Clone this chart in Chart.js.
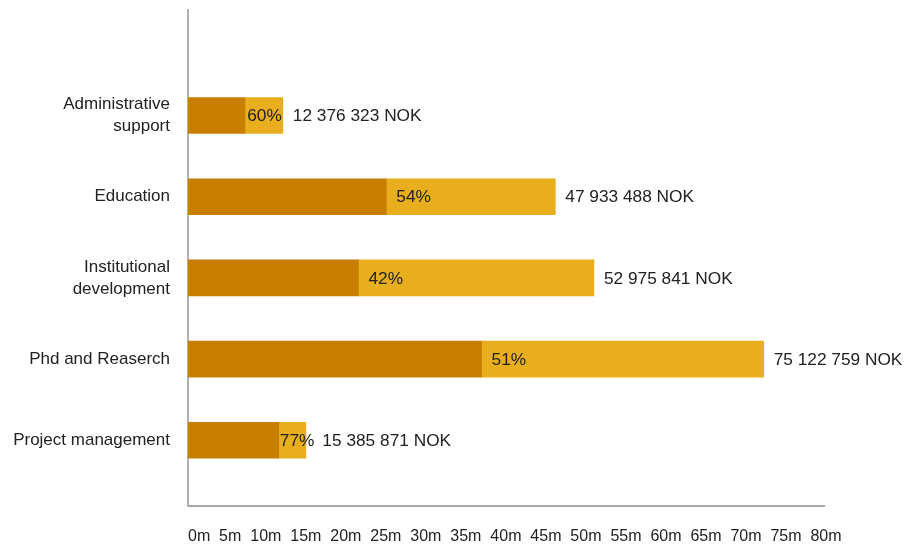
<!DOCTYPE html>
<html>
<head>
<meta charset="utf-8">
<script src="https://cdn.jsdelivr.net/npm/chart.js@4/dist/chart.umd.min.js"></script>
<style>
  html, body { margin: 0; padding: 0; background: #ffffff; }
  #wrap { width: 908px; height: 547px; position: relative; }
</style>
</head>
<body>
<div id="wrap"><canvas id="c" width="908" height="547"></canvas></div>
<script>
// ---- data ----
const categories = [
  ['Administrative', 'support'],
  'Education',
  ['Institutional', 'development'],
  'Phd and Reaserch',
  'Project management'
];
const spentValues     = [7425794, 25884084, 22249853, 38312607, 11847121];
const remainingValues = [4950529, 22049404, 30725988, 36810152, 3538750];
const percentLabels   = ['60%', '54%', '42%', '51%', '77%'];
const totalLabels     = ['12 376 323 NOK', '47 933 488 NOK', '52 975 841 NOK', '75 122 759 NOK', '15 385 871 NOK'];
const xTickLabels     = ['0m', '5m', '10m', '15m', '20m', '25m', '30m', '35m', '40m', '45m', '50m', '55m', '60m', '65m', '70m', '75m', '80m'];

const FONT = 'Liberation Sans, Arial, sans-serif';
const TEXT = '#222222';

const barLabels = {
  id: 'barLabels',
  afterDatasetsDraw(chart) {
    const ctx = chart.ctx;
    const m0 = chart.getDatasetMeta(0);
    const m1 = chart.getDatasetMeta(1);
    ctx.save();
    ctx.font = '17.3px ' + FONT;
    ctx.fillStyle = TEXT;
    ctx.textBaseline = 'middle';
    ctx.textAlign = 'left';
    categories.forEach((_, i) => {
      const dark = m0.data[i];
      const light = m1.data[i];
      const darkEnd = dark.x;
      const barEnd = light.x;
      const y = dark.y + 1;
      const pw = ctx.measureText(percentLabels[i]).width;
      const px = Math.max(darkEnd + 1, Math.min(darkEnd + 10, barEnd - pw - 1));
      ctx.fillText(percentLabels[i], px, y);
      const tx = Math.max(barEnd + 10, px + pw + 8);
      ctx.fillText(totalLabels[i], tx, y);
    });
    // x-axis tick label row, anchored at the x scale's left edge
    const xs = chart.scales.x;
    ctx.font = '16px ' + FONT;
    ctx.fillText(xTickLabels.join('  '), xs.left, xs.bottom - 10);
    ctx.restore();
  }
};

new Chart(document.getElementById('c'), {
  type: 'bar',
  data: {
    datasets: [
      {
        label: 'Spent',
        data: spentValues.map((v, i) => ({ x: v, y: i })),
        backgroundColor: '#C87E00',
        barThickness: 36
      },
      {
        label: 'Remaining',
        data: remainingValues.map((v, i) => ({ x: v, y: i })),
        backgroundColor: '#E8AE1E',
        barThickness: 36
      }
    ]
  },
  options: {
    indexAxis: 'y',
    responsive: false,
    animation: false,
    devicePixelRatio: 1,
    layout: { padding: { top: 10, right: 84, bottom: 0, left: 0 } },
    plugins: {
      legend: { display: false },
      tooltip: { enabled: false }
    },
    scales: {
      x: {
        type: 'linear',
        stacked: true,
        min: 0,
        max: 83000000,
        grid: { display: false, drawTicks: false },
        border: { display: true, color: '#a6a6a6', width: 2 },
        ticks: { display: false },
        afterFit(scale) { scale.height = 41; }
      },
      y: {
        type: 'linear',
        stacked: true,
        reverse: true,
        offset: false,
        min: -1.30,
        max: 4.81,
        grid: { display: false, drawTicks: false, offset: false },
        border: { display: true, color: '#b0b0b0', width: 2 },
        afterBuildTicks(scale) {
          scale.ticks = categories.map((_, i) => ({ value: i }));
        },
        afterFit(scale) {
          scale.width = 188;
          scale.paddingTop = 0;
          scale.paddingBottom = 0;
        },
        ticks: {
          padding: 18,
          color: TEXT,
          font: { family: FONT, size: 17, lineHeight: 1.3 },
          callback: (v) => categories[v]
        }
      }
    }
  },
  plugins: [barLabels]
});
</script>
</body>
</html>
